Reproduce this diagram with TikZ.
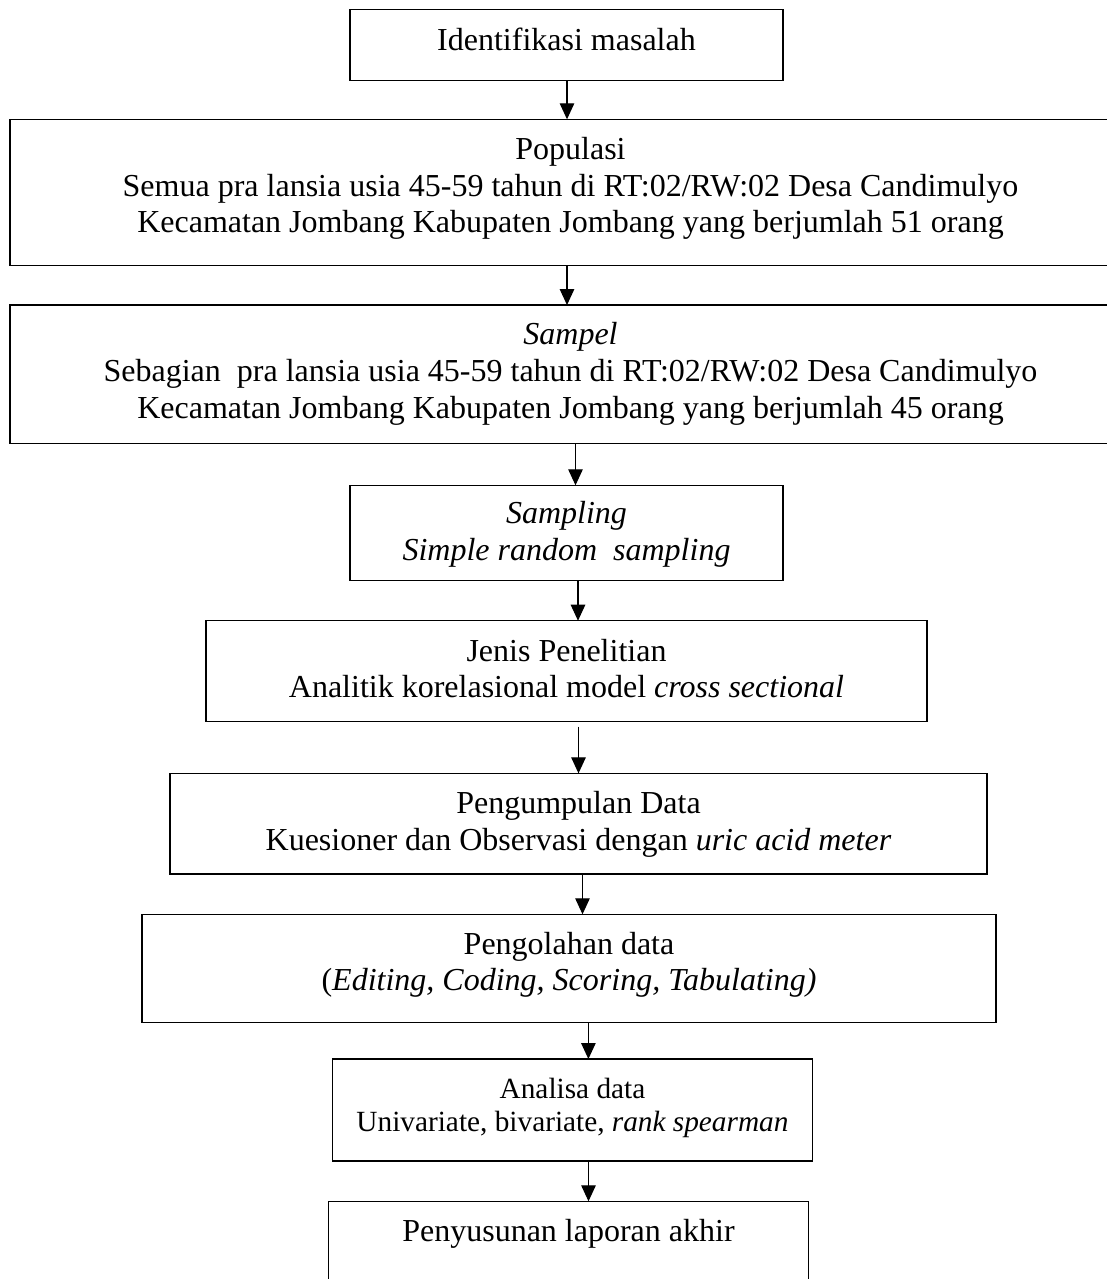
\documentclass[tikz,border=0pt]{standalone}
\usepackage{fontspec}
\setmainfont{Liberation Serif}
\usetikzlibrary{arrows.meta}
\begin{document}
\begin{tikzpicture}[x=1pt,y=-1pt,
  box/.style={draw=black, line width=1.2pt, rectangle, inner sep=0pt, outer sep=0pt},
  txt/.style={anchor=base, inner sep=0pt, font=\fontsize{32}{36}\selectfont},
  txts/.style={anchor=base, inner sep=0pt, font=\fontsize{29.3}{33}\selectfont},
  arr/.style={line width=1.2pt, -{Triangle[length=16pt,width=14.5pt]}}]
\path[use as bounding box, fill=white] (0,0) rectangle (1107,1279);
\clip (0,0) rectangle (1107,1279);
% boxes
\node[box, minimum width=433pt, minimum height=71pt] (b1) at (566.5,44.8) {};
\node[box, minimum width=1121pt, minimum height=146.4pt] (b2) at (570.5,192.5) {};
\node[box, minimum width=1121pt, minimum height=138.3pt] (b3) at (570.5,374.2) {};
\node[box, minimum width=433pt, minimum height=95.4pt] (b4) at (566.5,533) {};
\node[box, minimum width=721pt, minimum height=101pt] (b5) at (566.5,671.2) {};
\node[box, minimum width=817pt, minimum height=100.7pt] (b6) at (578.5,823.7) {};
\node[box, minimum width=854pt, minimum height=108pt] (b7) at (569,968.3) {};
\node[box, minimum width=480.4pt, minimum height=102pt] (b8) at (572.5,1110) {};
\node[box, minimum width=480.4pt, minimum height=100pt] (b9) at (568.5,1251.3) {};
% texts
\node[txt] (t1) at (566.5,50.5) {Identifikasi masalah};
\node[txt] (t2a) at (570.5,159.5) {Populasi};
\node[txt] (t2b) at (570.5,196) {Semua pra lansia usia 45-59 tahun di RT:02/RW:02 Desa Candimulyo};
\node[txt] (t2c) at (570.5,232.5) {Kecamatan Jombang Kabupaten Jombang yang berjumlah 51 orang};
\node[txt] (t3a) at (570.5,344) {\textit{Sampel}};
\node[txt] (t3b) at (570.5,381.5) {Sebagian\ \ pra lansia usia 45-59 tahun di RT:02/RW:02 Desa Candimulyo};
\node[txt] (t3c) at (570.5,418) {Kecamatan Jombang Kabupaten Jombang yang berjumlah 45 orang};
\node[txt] (t4a) at (566.5,523.3) {\textit{Sampling}};
\node[txt] (t4b) at (566.5,560.7) {\textit{Simple random\ \ sampling}};
\node[txt] (t5a) at (566.5,661) {Jenis Penelitian};
\node[txt] (t5b) at (566.5,697) {Analitik korelasional model \textit{cross sectional}};
\node[txt] (t6a) at (578.5,813) {Pengumpulan Data};
\node[txt] (t6b) at (578.5,850) {Kuesioner dan Observasi dengan \textit{uric acid meter}};
\node[txt] (t7a) at (569,954) {Pengolahan data};
\node[txt] (t7b) at (569,990) {(\textit{Editing, Coding, Scoring, Tabulating)}};
\node[txts] (t8a) at (572.5,1098) {Analisa data};
\node[txts] (t8b) at (572.5,1131) {Univariate, bivariate, \textit{rank spearman}};
\node[txt] (t9) at (568.5,1241.5) {Penyusunan laporan akhir};
% arrows
\draw[arr] ([xshift=0.5pt]b1.south) -- ([xshift=0.5pt]b1.south |- b2.north);
\draw[arr] ([xshift=-3.5pt]b2.south) -- ([xshift=-3.5pt]b2.south |- b3.north);
\draw[arr] ([xshift=5pt]b3.south) -- ([xshift=5pt]b3.south |- b4.north);
\draw[arr] ([xshift=11.5pt]b4.south) -- ([xshift=11.5pt]b4.south |- b5.north);
\draw[arr] ([xshift=12pt,yshift=-5pt]b5.south) -- ([xshift=12pt]b5.south |- b6.north);
\draw[arr] ([xshift=4pt]b6.south) -- ([xshift=4pt]b6.south |- b7.north);
\draw[arr] ([xshift=19.4pt]b7.south) -- ([xshift=19.4pt]b7.south |- b8.north);
\draw[arr] ([xshift=16pt]b8.south) -- ([xshift=16pt]b8.south |- b9.north);
\end{tikzpicture}
\end{document}
